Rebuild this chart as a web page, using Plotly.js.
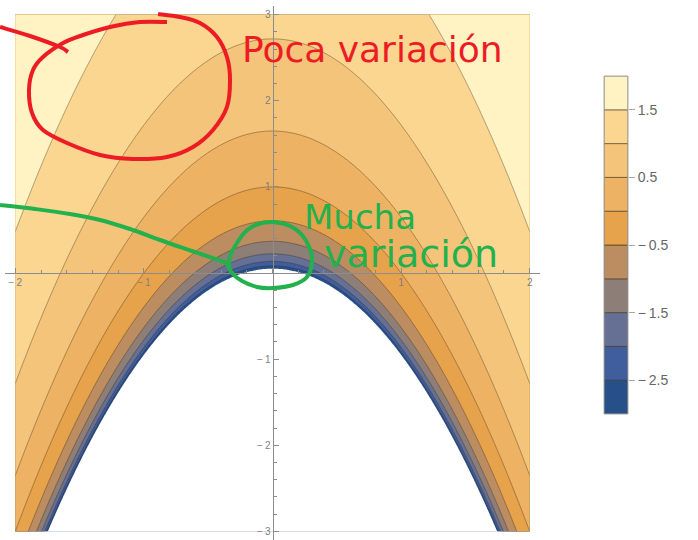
<!DOCTYPE html>
<html><head><meta charset="utf-8">
<script src="https://cdn.plot.ly/plotly-3.0.1.min.js"></script>
<style>html,body{margin:0;padding:0;background:#fff}#chart{width:698px;height:540px}</style>
</head><body><div id="chart"></div>
<script>
// ---- values ----
// The plotted field: contours are parabolas y = c - x^2; level 0 at (0,1), level 1 at (0,e) -> ln(x^2 + y)
const fieldFn = (x, y) => Math.log(x * x + y);
const xExtent = [-2, 2];
const yExtent = [-3, 3];
const levelStart = -2.5, levelEnd = 1.5, levelStep = 0.5;
const legendRange = [-3, 2];
const clipBelow = -3;   // values below the legend range are left blank
// band colours, lowest band first
const bandColors = ['#27508a', '#405d9e', '#657094', '#8e7e78', '#bb8d61',
                    '#e7a24c', '#eeb264', '#f4c47a', '#fad691', '#fff2c3'];
const bandLower = [-3, -2.5, -2, -1.5, -1, -0.5, 0, 0.5, 1, 1.5];
const bandSize = [0.5, 0.5, 0.5, 0.5, 0.5, 0.5, 0.5, 0.5, 0.5, 0.5];
const cbTickVals = [1.5, 0.5, -0.5, -1.5, -2.5];
const cbTickText = ['1.5', '0.5', '\u2212\u20090.5', '\u2212\u20091.5', '\u2212\u20092.5'];
const xTickVals = [-2, -1, 0, 1, 2];
const xTickText = ['\u2212\u20092', '\u2212\u20091', '', '1', '2'];
const yTickVals = [-3, -2, -1, 0, 1, 2, 3];
const yTickText = ['\u2212\u20093', '\u2212\u20092', '\u2212\u20091', '', '1', '2', '3'];
const noteTop = 'Poca variación';
const noteMid1 = 'Mucha';
const noteMid2 = 'variación';

// ---- grid ----
const nx = 401, ny = 601;
const xs = [], ys = [];
for (let i = 0; i < nx; i++) xs.push(xExtent[0] + (xExtent[1] - xExtent[0]) * i / (nx - 1));
for (let j = 0; j < ny; j++) ys.push(yExtent[0] + (yExtent[1] - yExtent[0]) * j / (ny - 1));
const z = [];
for (let j = 0; j < ny; j++) {
  const row = [];
  for (let i = 0; i < nx; i++) {
    const s = xs[i] * xs[i] + ys[j];
    let v = s > 0 ? fieldFn(xs[i], ys[j]) : -8;
    if (!isFinite(v) || v < -8) v = -8;
    row.push(v);
  }
  z.push(row);
}
const colorscale = bandColors.map((c, k) => [k / (bandColors.length - 1), c]);

// ---- geometry ----
const W = 698, H = 540;
const M = {l: 5, r: 0, t: 6, b: 0};
const pw = W - M.l - M.r, ph = H - M.t - M.b;
const fx = x => (x - M.l) / pw;          // pixel -> paper
const fy = y => 1 - (y - M.t) / ph;
const mainRight = 540, cbLeft = 604, cbRight = 628, cbTop = 76, cbBottom = 414;
const xRange = [-2.08, 2.08], yRange = [-3.1, 3.1];

// ---- hand-drawn annotations ----
const px = x => fx(x).toFixed(4);
const py = y => fy(y).toFixed(4);
function smoothPath(pts) {
  let d = 'M' + px(pts[0][0]) + ',' + py(pts[0][1]);
  for (let i = 0; i < pts.length - 1; i++) {
    const p0 = pts[i - 1] || pts[i], p1 = pts[i], p2 = pts[i + 1], p3 = pts[i + 2] || p2;
    const c1 = [p1[0] + (p2[0] - p0[0]) / 6, p1[1] + (p2[1] - p0[1]) / 6];
    const c2 = [p2[0] - (p3[0] - p1[0]) / 6, p2[1] - (p3[1] - p1[1]) / 6];
    d += ' C' + px(c1[0]) + ',' + py(c1[1]) + ' ' + px(c2[0]) + ',' + py(c2[1]) + ' ' + px(p2[0]) + ',' + py(p2[1]);
  }
  return d;
}
const redLoop = [[167,22],[140,22],[110,27],[83,35],[63,43],[43,57],[33,70],[29,90],[32,113],[43,130],[67,143],[100,155],[133,159],[167,157],[193,147],[213,130],[227,107],[230,80],[227,57],[217,37],[200,23],[180,17],[158,14]];
const redLead = [[0,27],[30,36],[60,47],[68,52]];
const greenLead = [[0,205],[35,209],[70,214],[100,220],[130,229],[160,240],[192,251],[227,263]];
const greenLoop = [[227,263],[232,273],[242,281],[257,287],[273,288],[293,285],[307,277],[312,263],[310,249],[302,235],[290,226],[273,222],[258,224],[246,231],[237,243],[230,256],[229,268]];
const RED = '#ed1c24', GREEN = '#22b14c';
const shapes = [
  {type:'path', xref:'paper', yref:'paper', path: smoothPath(redLoop), line:{color:RED, width:4}},
  {type:'path', xref:'paper', yref:'paper', path: smoothPath(redLead), line:{color:RED, width:4}},
  {type:'path', xref:'paper', yref:'paper', path: smoothPath(greenLead), line:{color:GREEN, width:4}},
  {type:'path', xref:'paper', yref:'paper', path: smoothPath(greenLoop), line:{color:GREEN, width:4}},
  // legend frame
  {type:'rect', xref:'x2 domain', yref:'y2 domain', x0:0, x1:1, y0:0, y1:1, line:{color:'#a8a8a8', width:1}, fillcolor:'rgba(0,0,0,0)'}
];
const handFont = (c, s) => ({family:'"DejaVu Sans", sans-serif', size:s, color:c});
const annotations = [
  {xref:'paper', yref:'paper', x:fx(240), y:fy(50), xanchor:'left', yanchor:'middle', text:noteTop, showarrow:false, font:handFont(RED, 36)},
  {xref:'paper', yref:'paper', x:fx(302), y:fy(217), xanchor:'left', yanchor:'middle', text:noteMid1, showarrow:false, font:handFont(GREEN, 34)},
  {xref:'paper', yref:'paper', x:fx(322), y:fy(254), xanchor:'left', yanchor:'middle', text:noteMid2, showarrow:false, font:handFont(GREEN, 38)}
];

const traces = [
  {type:'contour', x:xs, y:ys, z:z, colorscale:colorscale, hoverinfo:'skip', showscale:false,
   contours:{coloring:'fill', start:levelStart, end:levelEnd, size:levelStep},
   line:{color:'rgba(60,45,20,0.4)', width:1, smoothing:0}},
  {type:'contour', x:xs, y:ys, z:z, showscale:false, hoverinfo:'skip',
   contours:{type:'constraint', operation:'>', value:clipBelow},
   fillcolor:'#ffffff', line:{width:0, color:'rgba(0,0,0,0)'}},
  // colour legend as stacked bands
  {type:'bar', xaxis:'x2', yaxis:'y2', x:bandLower.map(() => 0), y:bandSize, base:bandLower, width:1,
   marker:{color:bandColors, line:{color:'rgba(60,45,20,0.55)', width:1}}, hoverinfo:'skip'}
];
const axisCommon = {showgrid:false, zeroline:false, showline:true, linecolor:'#8c8c8c', linewidth:1,
  ticks:'inside', ticklen:5, tickcolor:'#8c8c8c', tickmode:'array',
  tickfont:{family:'Liberation Sans, Arial, sans-serif', size:10, color:'#808080'},
  minor:{tickmode:'linear', tick0:0, dtick:0.2, ticks:'inside', ticklen:3, tickcolor:'#8c8c8c'}, fixedrange:true};
const layout = {
  width:W, height:H, margin:M, paper_bgcolor:'#fff', plot_bgcolor:'#fff', showlegend:false, barmode:'overlay',
  xaxis:Object.assign({}, axisCommon, {domain:[0, fx(mainRight)], range:xRange, anchor:'free', position:0.5,
    tickvals:xTickVals, ticktext:xTickText}),
  yaxis:Object.assign({}, axisCommon, {domain:[0, 1], range:yRange, anchor:'free', position:fx((M.l + mainRight) / 2),
    tickvals:yTickVals, ticktext:yTickText}),
  xaxis2:{domain:[fx(cbLeft), fx(cbRight)], range:[-0.5, 0.5], anchor:'y2', visible:false, fixedrange:true},
  yaxis2:{domain:[fy(cbBottom), fy(cbTop)], range:legendRange, anchor:'x2', side:'right', showgrid:false, zeroline:false,
    showline:false, ticks:'outside', ticklen:6, tickcolor:'#a8a8a8', tickmode:'array', tickvals:cbTickVals, ticktext:cbTickText,
    tickfont:{family:'Liberation Sans, Arial, sans-serif', size:14, color:'#666'}, fixedrange:true},
  shapes:shapes, annotations:annotations
};
Plotly.newPlot('chart', traces, layout, {displayModeBar:false, staticPlot:true});
</script></body></html>
